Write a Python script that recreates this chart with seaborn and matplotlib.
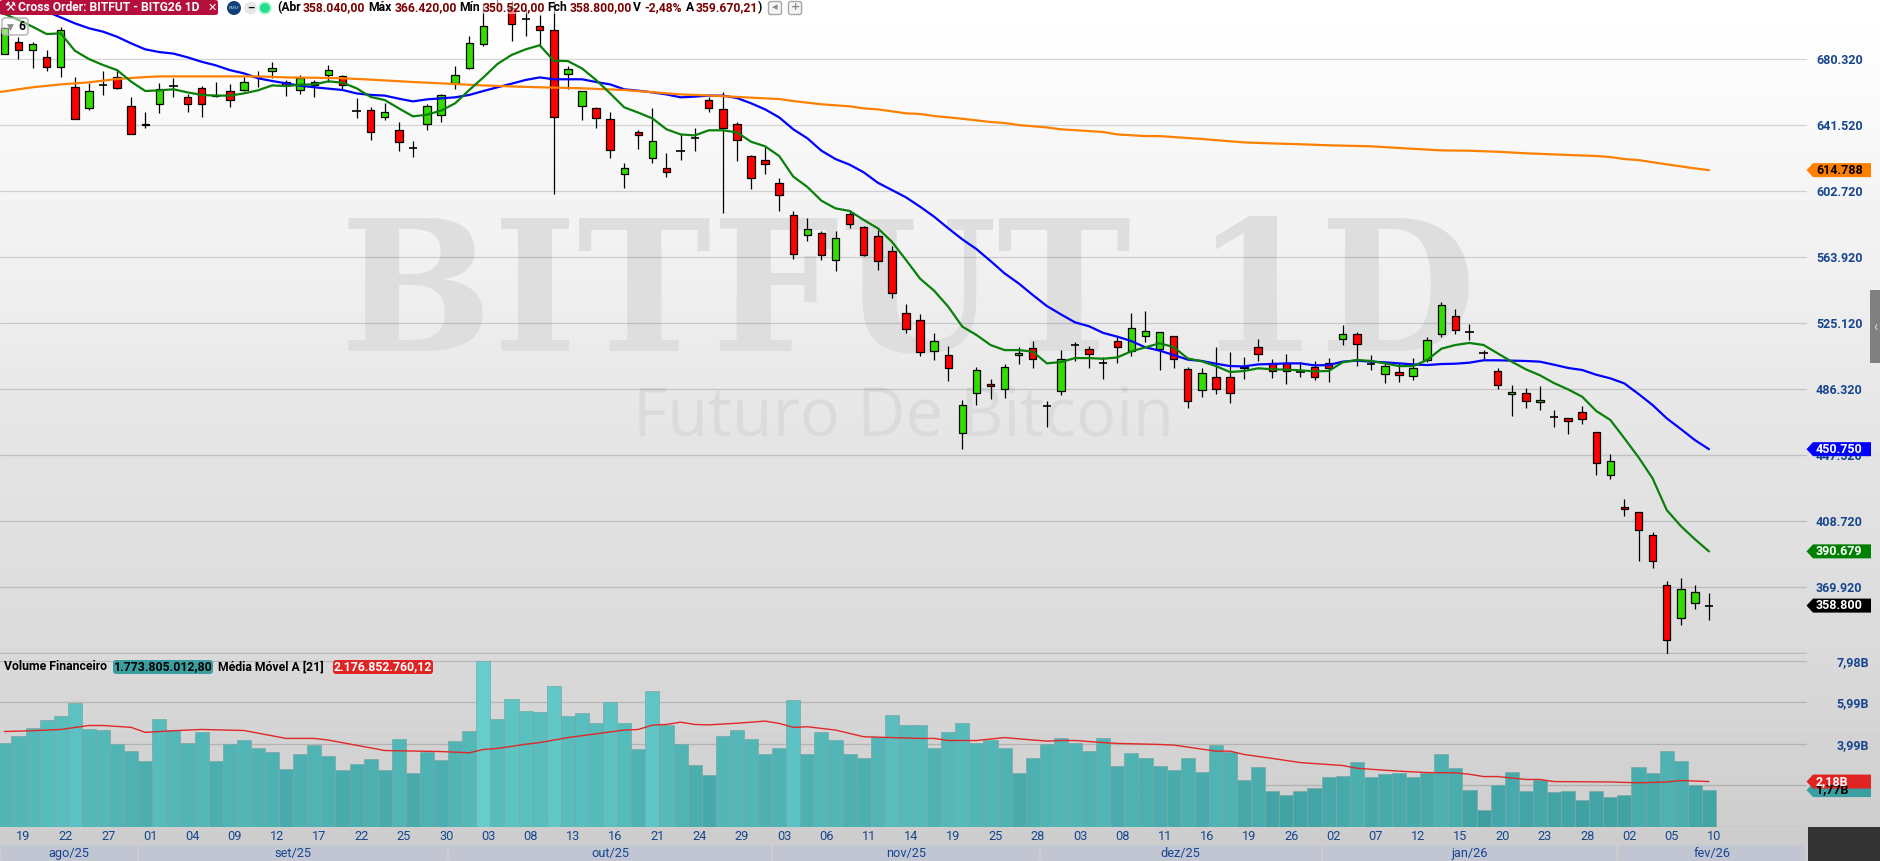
import numpy as np
import pandas as pd
import matplotlib
matplotlib.use('Agg')
import matplotlib.pyplot as plt
import seaborn as sns
from matplotlib.patches import Rectangle, FancyBboxPatch, Polygon, Circle

# candles, values in thousands
opens = [682.9,690.3,685.6,681.5,675.2,663.9,651.1,664.6,669.7,652.7,642.1,653.5,664.4,658.0,663.3,658.2,661.5,662.1,669.3,672.9,
         666.8,661.7,666.8,670.5,670.1,649.3,650.3,645.8,638.6,628.0,641.7,647.0,666.0,675.0,688.7,720.0,709.9,703.6,699.3,697.4,
         671.5,652.3,651.5,645.0,612.3,637.0,621.7,616.2,625.8,633.9,655.8,650.9,641.7,622.9,620.6,607.4,588.6,576.5,578.0,561.8,
         589.2,581.6,576.3,567.4,530.6,526.9,508.3,505.9,460.1,483.6,488.9,485.9,505.9,510.0,476.1,484.8,511.8,509.4,501.6,514.5,
         508.3,517.1,509.4,517.5,497.7,485.3,493.0,493.0,499.2,510.6,501.2,501.2,496.3,498.9,501.2,515.3,518.3,501.2,494.7,496.1,
         493.9,503.2,518.3,529.2,519.4,507.5,496.9,483.0,484.0,478.3,469.7,469.3,472.8,461.0,435.8,416.6,414.0,400.5,371.1,351.3,
         360.1,358.04]
highs = [699.1,693.3,690.3,685.4,698.7,669.3,665.8,673.1,674.0,657.8,648.8,665.8,668.8,659.5,664.2,666.6,665.4,669.3,673.1,678.3,
         667.8,670.5,667.8,676.6,670.9,657.0,651.7,654.2,643.1,631.9,653.7,659.7,676.0,693.6,712.9,722.0,714.0,709.5,706.0,714.0,
         676.0,661.5,652.1,648.8,618.8,638.2,651.1,624.7,635.8,639.4,658.0,660.5,642.9,623.5,628.6,610.0,590.6,586.4,578.8,579.0,
         591.5,582.1,579.6,570.2,536.1,530.2,518.8,511.4,479.5,498.9,492.0,500.6,511.0,514.3,478.9,509.0,513.6,511.4,504.7,516.5,
         530.6,532.0,519.8,517.5,498.9,498.3,510.6,507.9,504.7,515.5,503.6,506.5,501.8,502.4,504.1,523.5,519.4,505.9,501.2,501.2,
         504.1,516.9,537.1,533.0,524.1,509.0,498.3,488.5,486.5,487.9,473.8,469.3,476.1,461.0,447.9,421.5,414.0,402.0,373.0,374.8,
         370.7,366.42]
lows = [682.9,680.3,675.0,673.3,669.7,644.6,649.9,659.2,662.3,635.8,639.7,648.6,657.8,649.2,646.2,657.6,652.1,661.3,663.7,668.7,
        658.4,659.7,657.8,666.8,661.9,645.4,632.5,644.3,626.0,622.7,638.4,643.3,662.5,674.2,688.0,709.0,690.9,693.8,688.3,600.9,
        662.3,644.3,639.6,622.1,604.5,627.4,618.8,610.9,620.7,626.2,649.2,589.8,620.3,603.9,612.7,591.0,562.7,573.1,562.1,555.7,
        581.0,564.5,556.1,539.8,519.2,505.7,503.2,491.0,451.0,476.7,480.4,480.8,500.8,498.5,464.0,482.6,502.6,498.5,492.0,501.6,
        505.5,513.7,497.3,498.5,475.0,481.4,483.2,477.9,492.0,502.6,492.6,489.0,493.2,491.4,490.2,512.0,499.6,497.3,489.7,490.2,
        491.4,502.2,516.9,518.6,515.1,503.6,486.1,470.5,475.1,473.8,464.0,459.7,465.5,435.6,433.2,411.5,385.0,380.9,330.5,347.4,
        356.8,350.52]
closes = [698.2,685.6,688.7,675.2,697.4,645.0,661.5,664.6,663.3,636.2,641.1,662.7,664.4,653.5,653.5,659.2,655.8,666.8,669.3,674.6,
          664.6,669.1,664.6,673.9,664.6,649.3,637.0,649.2,631.1,628.0,652.7,659.2,670.9,689.7,699.7,716.0,700.7,703.6,697.4,645.8,
          674.0,661.1,645.2,626.4,616.2,635.2,632.1,613.5,625.8,633.9,651.1,639.4,632.3,610.0,618.2,600.0,565.3,580.4,564.7,575.1,
          582.9,565.1,561.2,542.4,521.6,507.7,514.1,498.3,476.5,497.1,487.7,498.9,507.5,503.6,476.1,503.6,511.8,506.5,501.6,510.6,
          521.8,520.4,519.8,503.6,478.9,495.7,485.9,483.6,498.3,506.5,496.5,496.5,495.9,493.0,498.3,518.3,512.4,500.6,499.4,494.5,
          498.7,515.1,535.7,520.8,519.4,507.5,488.3,484.6,479.3,479.5,469.7,467.1,468.3,442.4,444.0,415.4,403.0,384.8,338.4,368.7,
          367.0,358.80]

ma_green = [706.6,703.1,699.1,694.8,695.2,685.0,680.1,676.6,673.6,666.8,661.3,661.7,662.3,660.5,659.0,658.6,658.6,659.9,661.7,664.6,
            664.2,665.0,665.2,667.0,666.2,662.9,657.8,656.0,651.1,646.4,647.4,649.8,654.1,661.9,669.3,677.2,682.5,685.8,688.2,679.1,
            678.9,674.6,667.8,659.9,651.7,648.6,645.2,638.8,635.8,635.2,638.2,638.2,637.0,631.5,628.8,623.1,611.0,604.9,596.8,592.3,
            590.8,585.5,580.6,572.7,562.0,551.0,543.9,534.5,522.8,517.9,512.0,509.0,509.0,508.1,501.2,502.0,504.3,504.3,503.9,504.7,
            508.3,510.6,513.0,510.8,504.1,502.4,499.6,496.1,496.7,498.3,497.7,497.5,497.1,496.5,496.7,501.8,503.2,502.6,501.2,499.6,
            499.6,503.2,509.8,512.0,513.2,512.0,507.1,502.2,497.7,494.2,489.6,485.9,481.6,473.2,467.9,457.1,446.0,433.6,415.0,405.6,
            397.8,390.68]
ma_blue = [712.8,711.9,710.5,708.0,704.6,701.1,698.2,696.2,693.2,689.3,685.8,684.2,683.3,681.1,678.5,676.4,673.6,671.7,668.8,667.2,
           665.8,664.4,663.5,662.7,661.9,659.9,659.0,658.6,656.8,655.2,656.4,657.0,657.6,659.0,661.3,663.5,665.6,667.8,669.3,668.2,
           668.2,668.2,666.6,665.2,662.3,661.5,660.5,659.3,657.6,658.0,658.6,658.6,657.2,654.1,650.5,645.8,638.8,633.5,626.2,621.3,
           618.0,613.5,607.4,603.1,598.8,593.3,587.4,580.6,574.1,568.4,561.4,554.1,548.2,541.4,534.9,530.0,525.3,523.0,519.1,516.9,
           514.3,510.6,508.7,506.1,503.4,502.6,501.0,499.6,499.4,500.6,500.8,501.2,501.2,500.0,500.2,502.2,502.8,502.2,501.8,501.2,
           500.6,500.2,500.8,501.0,501.6,503.0,503.0,502.8,502.6,502.2,500.4,498.5,497.3,494.5,492.4,489.4,483.2,476.7,468.9,462.6,
           456.1,450.75]
orange_idx = [-1,0,2,4,6,8,10,11,15,18,20,22,24,26,29,31,34,36,38,41,44,48,50,53,55,56,58,60,61,62,64,65,66,68,70,71,72,74,75,78,79,
              81,82,85,88,90,92,94,97,99,102,104,106,108,111,113,114,115,116,118,120,121]
ma_orange = [659.9,661.1,663.5,665.2,666.4,668.4,669.5,669.9,669.9,669.9,669.3,669.1,668.8,668.0,666.6,665.8,664.6,664.0,663.5,662.9,661.9,
             659.3,658.7,657.4,656.6,655.4,653.5,652.3,651.1,650.5,648.2,647.8,646.6,645.0,643.1,642.5,641.3,639.9,638.8,637.2,635.8,
             634.8,634.8,633.1,631.1,630.5,630.0,629.4,628.8,627.8,626.4,626.2,625.6,624.7,623.7,623.1,622.5,621.3,620.7,618.2,615.8,614.79]

# financial volume in billions
volume = [4.01,4.36,4.74,5.13,5.32,5.95,4.70,4.65,3.97,3.64,3.16,5.18,4.65,4.01,4.55,3.16,3.97,4.17,3.78,3.59,
          2.77,3.49,3.93,3.40,2.72,3.01,3.25,2.72,4.21,2.58,3.59,3.21,4.12,4.60,7.96,5.18,6.14,5.56,5.51,6.76,
          5.32,5.46,4.98,5.99,4.98,3.73,6.52,4.89,3.97,2.96,2.48,4.36,4.65,4.21,3.49,3.78,6.09,3.49,4.55,4.17,
          3.49,3.30,4.31,5.37,4.89,4.89,3.78,4.55,4.98,4.02,4.17,3.78,2.58,3.30,3.97,4.26,4.02,3.64,4.26,2.92,
          3.54,3.30,2.92,2.72,3.30,2.63,3.93,3.59,2.24,2.87,1.71,1.52,1.71,1.86,2.39,2.44,3.11,2.39,2.53,2.58,
          2.39,2.58,3.49,2.82,1.76,0.80,2.00,2.63,1.71,2.24,1.67,1.71,1.28,1.71,1.43,1.52,2.87,2.58,3.64,3.16,
          2.00,1.77]
vol_ma_idx = [0,2,4,6,7,9,10,12,14,17,20,22,23,27,31,33,34,35,37,38,40,44,45,46,47,48,49,50,52,54,55,56,57,58,59,61,63,65,66,67,
              69,71,72,74,75,76,78,79,82,83,86,87,88,90,92,95,96,97,99,101,103,104,105,106,108,109,110,114,116,118,119,121]
vol_ma = [4.58,4.62,4.68,4.87,4.87,4.78,4.54,4.62,4.68,4.63,4.25,4.25,4.17,3.67,3.62,3.56,3.72,3.77,3.97,4.05,4.29,4.65,4.68,4.89,4.92,5.03,4.92,4.90,4.98,5.08,
          4.97,4.78,4.81,4.73,4.65,4.33,4.29,4.25,4.25,4.15,4.15,4.29,4.23,4.12,4.15,4.15,4.05,4.01,3.96,3.93,3.64,3.64,3.48,3.29,3.09,2.95,2.82,2.77,2.68,2.61,
          2.60,2.53,2.42,2.42,2.28,2.28,2.18,2.16,2.12,2.16,2.23,2.18]

price_ticks = [680.32,641.52,602.72,563.92,525.12,486.32,447.52,408.72,369.92,331.12]
price_labels = ['680.320','641.520','602.720','563.920','525.120','486.320','447.520','408.720','369.920','']
vol_ticks = [7.98,5.99,3.99,2.0,0]
vol_labels = ['7,98B','5,99B','3,99B','','']
date_idx = list(range(1,122,3))
date_labels = ['19','22','27','01','04','09','12','17','22','25','30','03','08','13','16','21','24','29','03','06','11',
               '14','19','25','28','03','08','11','16','19','26','02','07','12','15','20','23','28','02','05','10']
month_ends = [9.5,31.5,54.5,73.5,93.5,114.5,127.9]
month_labels = ['ago/25','set/25','out/25','nov/25','dez/25','jan/26','fev/26']

W, H = 1880, 861
AX_RIGHT, PRICE_BOTTOM, VOL_BOTTOM = 1807, 654, 827
LABEL_BLUE = '#17468f'

sns.set_theme(style='white')
plt.rcParams['font.family'] = ['Roboto', 'DejaVu Sans']

fig = plt.figure(figsize=(W/100, H/100), dpi=100)

def fx(x):
    return x / W

def fy(y):
    return 1 - y / H

def ftext(x, y, s, **kw):
    kw.setdefault('va', 'center')
    kw.setdefault('zorder', 8)
    return fig.text(fx(x), fy(y), s, **kw)

# background gradient
ax_bg = fig.add_axes([0, 0, 1, 1], zorder=-1)
ramp = np.interp(np.arange(H), [0, 60, 250, 450, 650, 830, 861], [1, .99, .945, .895, .855, .805, .80])
ax_bg.imshow(ramp[:, None], cmap='gray', vmin=0, vmax=1, aspect='auto')
ax_bg.axis('off')

ax = fig.add_axes([0, fy(PRICE_BOTTOM), fx(AX_RIGHT), PRICE_BOTTOM / H], facecolor='none')
ax_vol = fig.add_axes([0, fy(VOL_BOTTOM), fx(AX_RIGHT), (VOL_BOTTOM - PRICE_BOTTOM) / H], facecolor='none')
ax_m = fig.add_axes([0, 0, fx(AX_RIGHT), 16 / H], facecolor='none')

xlim = (-0.312, 127.96)

# watermark
ax.text(0.5026, 0.54, 'BITFUT 1D', transform=ax.transAxes, family='DejaVu Serif', weight='bold', fontsize=130,
        color='#dedede', ha='center', va='center', zorder=0)
ax.text(0.4997, 0.361, 'Futuro De Bitcoin', transform=ax.transAxes, fontsize=48, color='#dbdbdb',
        ha='center', va='center', zorder=0, family='Open Sans')
# price panel: wicks and bodies
idx = np.arange(len(closes))
df = pd.DataFrame({'idx': idx, 'open': opens, 'high': highs, 'low': lows, 'close': closes,
                   'green': ma_green, 'blue': ma_blue})
ax.vlines(df['idx'], df['low'], df['high'], color='black', lw=0.9, zorder=3)
is_doji = (df['open'] - df['close']).abs() <= 0.8
solid = df[~is_doji]
body_colors = np.where(solid['close'] > solid['open'], '#33dd00', '#ff0000')
ax.bar(solid['idx'], (solid['close'] - solid['open']).abs(), bottom=solid[['open', 'close']].min(axis=1),
       width=0.53, color=body_colors, edgecolor='black', linewidth=0.9, zorder=4)
dj = df[is_doji]
ax.hlines(dj['close'], dj['idx'] - 0.29, dj['idx'] + 0.29, color='black', lw=1.2, zorder=4)

sns.lineplot(data=df, x='idx', y='blue', color='#0000ff', lw=1.6, ax=ax, zorder=5, estimator=None)
sns.lineplot(x=orange_idx, y=ma_orange, color='#ff8000', lw=1.6, ax=ax, zorder=5, estimator=None)
sns.lineplot(data=df, x='idx', y='green', color='#0a800a', lw=1.6, ax=ax, zorder=6, estimator=None)

ax.set_xlim(xlim)
ax.set_ylim(714.81 - 0.19596 * 1962, 714.81)
ax.set_yticks(price_ticks)
ax.set_yticklabels(price_labels)

# volume panel
shade = np.clip((np.array(volume) - 1) / 6.5, 0, 1)
low_c, high_c = np.array([0x3e, 0x9f, 0xa1]) / 255, np.array([0x66, 0xcc, 0xcc]) / 255
vol_palette = {i: tuple(low_c + (high_c - low_c) * s) for i, s in enumerate(shade)}
vol_df = pd.DataFrame({'idx': idx, 'volume': volume})
sns.barplot(data=vol_df, x='idx', y='volume', hue='idx', palette=vol_palette, native_scale=True, width=1.0,
            saturation=1, errorbar=None, legend=False, edgecolor='#78a8a8', linewidth=0.5, ax=ax_vol, zorder=3)
sns.lineplot(x=vol_ma_idx, y=vol_ma, color='#e02828', lw=1.0, ax=ax_vol, zorder=5, estimator=None)
ax_vol.set_xlim(xlim)
ax_vol.set_ylim(0, 8.30)
ax_vol.set_yticks(vol_ticks)
ax_vol.set_yticklabels(vol_labels)
ax_vol.set_xticks([i + 0.36 for i in date_idx])
ax_vol.set_xticklabels(date_labels)

for a in (ax, ax_vol):
    for s in a.spines.values():
        s.set_visible(False)
    a.set_xlabel('')
    a.set_ylabel('')
    a.yaxis.tick_right()
    a.grid(axis='y', color='black', alpha=0.15, lw=0.9, zorder=1)
    a.set_axisbelow(False)
    a.grid(axis='x', visible=False)
    a.tick_params(axis='y', length=0, labelsize=9, labelcolor=LABEL_BLUE)
for gl in ax.get_ygridlines() + ax_vol.get_ygridlines():
    gl.set_zorder(1)
ax.tick_params(axis='y', pad=6.5)
ax.set_xticks([])
ax_vol.tick_params(axis='y', pad=21)
ax_vol.tick_params(axis='x', length=0, pad=2, labelsize=9.2, labelcolor=LABEL_BLUE)
for a in (ax, ax_vol):
    for tk in a.yaxis.get_major_ticks():
        tk.label2.set_fontweight('bold')

# month band
ax_m.set_xlim(xlim)
ax_m.set_ylim(0, 1)
ax_m.axis('off')
start = xlim[0]
for end, lab in zip(month_ends, month_labels):
    ax_m.axvspan(start + 0.07, end - 0.07, color='#c2c6d2', lw=0)
    ax_m.text((start + end) / 2, 0.45, lab, ha='center', va='center', fontsize=9.2, color=LABEL_BLUE)
    start = end

# dark corner and grip
fig.add_artist(Rectangle((fx(1808), 0), 1 - fx(1808), (H - VOL_BOTTOM) / H, color='#333333', lw=0, zorder=2))
fig.add_artist(Rectangle((fx(1870), fy(363)), fx(10), 73 / H, color='#808080', lw=0, zorder=2))
ftext(1875, 327, '‹', color='#dddddd', fontsize=10, ha='center')

# price tags drawn from the axis scale
def tag(a, value, text, fc, tc):
    y = H - a.transData.transform((0, value))[1]
    pts = [(1806.5, y), (1813, y - 7), (1871, y - 7), (1871, y + 7), (1813, y + 7)]
    fig.add_artist(Polygon([(fx(px), fy(py)) for px, py in pts], closed=True, color=fc, lw=0, zorder=6))
    ftext(1816, y, text, color=tc, fontsize=9, fontweight='bold', zorder=7)

tag(ax, ma_orange[-1], '614.788', '#ff8000', 'black')
tag(ax, ma_blue[-1], '450.750', '#0000ff', 'white')
tag(ax, ma_green[-1], '390.679', '#008000', 'white')
tag(ax, closes[-1], '358.800', 'black', 'white')
tag(ax_vol, volume[-1], '1,77B', '#3b9ea0', 'black')
tag(ax_vol, vol_ma[-1], '2,18B', '#e02424', 'white')

# header strip
fig.add_artist(Rectangle((0, fy(14)), 1, 14 / H, color='white', alpha=0.55, lw=0, zorder=3))
fig.add_artist(FancyBboxPatch((fx(0), fy(15)), fx(218), 15 / H, boxstyle='round,pad=0,rounding_size=0.002',
                              color='#b50f3c', lw=0, zorder=4))
ftext(10, 7.5, '⚒', color='white', fontsize=9, ha='center', family='DejaVu Sans')
ftext(18.5, 7.5, 'Cross Order: BITFUT - BITG26 1D', color='white', fontsize=8.7, fontweight='bold')
ftext(212.5, 7.5, '✕', color='white', fontsize=8, ha='center', family='DejaVu Sans')

fig.add_artist(Circle((234, H - 8), 7, transform=None, color='#123f75', lw=0, zorder=5))
ftext(234, 8, 'BM&F', color='#9fc0e0', fontsize=3, ha='center')
fig.add_artist(Circle((250.5, H - 8), 6.5, transform=None, color='#e8e8e8', lw=0, zorder=5))
ftext(250.5, 7.5, '–', color='black', fontsize=8, fontweight='bold', ha='center')
fig.add_artist(Circle((265, H - 8), 7, transform=None, color='#bdf5d8', lw=0, zorder=5))
fig.add_artist(Circle((265, H - 8), 5, transform=None, color='#22e08a', lw=0, zorder=6))

dark_red = '#7a0000'
for x, s, c in [(277, '(Abr', 'black'), (303, '358.040,00', dark_red), (368, 'Máx', 'black'), (395, '366.420,00', dark_red),
                (459, 'Mín', 'black'), (483, '350.520,00', dark_red), (547, 'Fch', 'black'), (570, '358.800,00', dark_red),
                (633, 'V', 'black'), (644, '-2,48%', dark_red), (685.5, 'A', 'black'), (696, '359.670,21', dark_red),
                (758, ')', 'black')]:
    ftext(x, 7.5, s, color=c, fontsize=8.7, fontweight='bold')

for x, s in [(775, '◂'), (795, '+')]:
    fig.add_artist(FancyBboxPatch((x - 6.5, H - 14.5), 13, 13, transform=None, boxstyle='round,pad=0,rounding_size=2',
                                  fc='#f4f4f4', ec='#a8a8a8', lw=1, zorder=5))
    ftext(x, 7.5, s, color='#888888', fontsize=8, fontweight='bold', ha='center', family='DejaVu Sans')

fig.add_artist(FancyBboxPatch((2, H - 35), 26, 17, transform=None, boxstyle='round,pad=0,rounding_size=3',
                              fc=(1, 1, 1, 0.45), ec='#b0b0b0', lw=1, zorder=7))
ftext(10, 27, '▼', color='#888888', fontsize=6.5, ha='center', family='DejaVu Sans')
ftext(22, 27, '6', color='black', fontsize=8.7, ha='center', fontweight='bold')

# volume legend
ftext(4, 667, 'Volume Financeiro', color='black', fontsize=8.8, fontweight='bold')
fig.add_artist(FancyBboxPatch((113, H - 674), 100, 14, transform=None, boxstyle='round,pad=0,rounding_size=3',
                              color='#3b9ea0', lw=0, zorder=7))
ftext(163, 667, '1.773.805.012,80', color='black', fontsize=8.8, ha='center', fontweight='bold')
ftext(218, 667, 'Média Móvel A [21]', color='black', fontsize=8.8, fontweight='bold')
fig.add_artist(FancyBboxPatch((333, H - 674), 100, 14, transform=None, boxstyle='round,pad=0,rounding_size=3',
                              color='#e02424', lw=0, zorder=7))
ftext(383, 667, '2.176.852.760,12', color='white', fontsize=8.8, ha='center', fontweight='bold')

fig.savefig('out.png', dpi=100)
